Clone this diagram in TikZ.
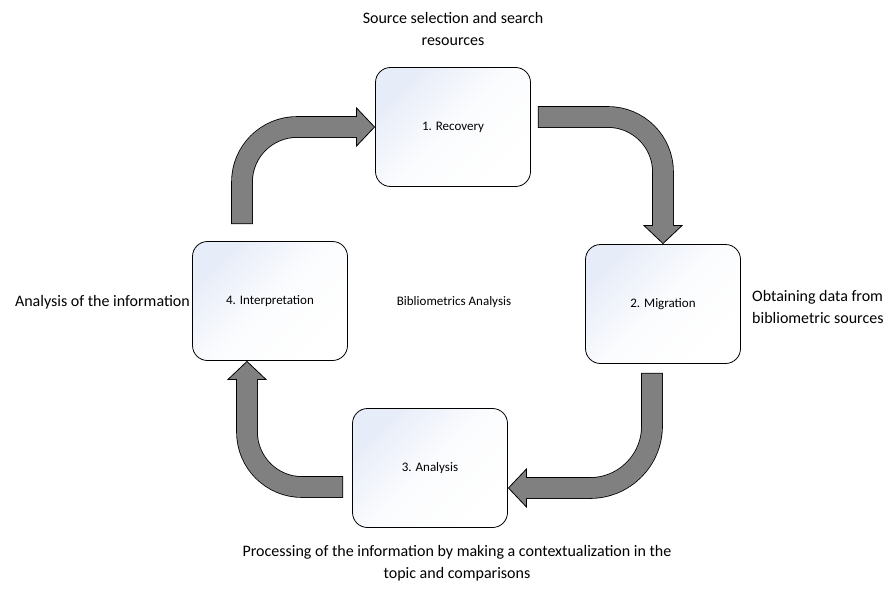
\documentclass[tikz,border=0pt]{standalone}
\usepackage{fontspec}
\setmainfont{Carlito}
\usetikzlibrary{arrows.meta,calc}
\definecolor{arrowgray}{HTML}{808080}
\definecolor{boxblue}{HTML}{E6ECF8}

\tikzset{
  stage/.style={draw=black, line width=0.8pt, rounded corners=15pt,
    minimum width=155pt, minimum height=119pt, inner sep=0pt,
    top color=boxblue, bottom color=white, middle color=white!85!boxblue,
    shading angle=45,
    font=\fontsize{13}{16}\selectfont},
  note/.style={font=\fontsize{16}{22}\selectfont, align=center, inner sep=0pt},
  flow/.style={draw=arrowgray, line width=20pt, rounded corners=55pt,
    shorten <=0.8pt, shorten >=18pt,
    preaction={draw=black, line width=21.6pt, shorten <=0pt, shorten >=0pt,
      -{Triangle[length=19pt, width=40pt, fill=arrowgray, line width=0.8pt]}}}
}

\begin{document}
\begin{tikzpicture}[x=1pt, y=-1pt]
  \useasboundingbox (0,0) rectangle (896,602);

  % the four stages
  \node[stage] (rec) at (453,127) {1. Recovery};
  \node[stage] (mig) at (663,304) {2. Migration};
  \node[stage] (ana) at (430,468) {3. Analysis};
  \node[stage] (interp) at (270,301) {4. Interpretation};

  \node[font=\fontsize{13}{16}\selectfont] (title) at (454,302) {Bibliometrics Analysis};

  % descriptions
  \node[note] (reclabel) at (453,29) {Source selection and search\\resources};
  \node[note, anchor=west, align=left] (miglabel) at (752,307) {Obtaining data from\\bibliometric sources};
  \node[note] (analabel) at (457,563) {Processing of the information by making a contextualization in the\\topic and comparisons};
  \node[note, anchor=east] (intlabel) at (190,302) {Analysis of the information};

  % cycle
  \draw[flow] ($(interp.north)+(-28,-17)$) |- (rec.west);
  \draw[flow] ($(rec.east)+(7,-10)$) -| (mig.north);
  \draw[flow, rounded corners=62pt] ($(mig.south)+(-11,9)$) |- ($(ana.east)+(0,20)$);
  \draw[flow] ($(ana.west)+(-9,19)$) -| ($(interp.south)+(-23,0)$);
\end{tikzpicture}
\end{document}
